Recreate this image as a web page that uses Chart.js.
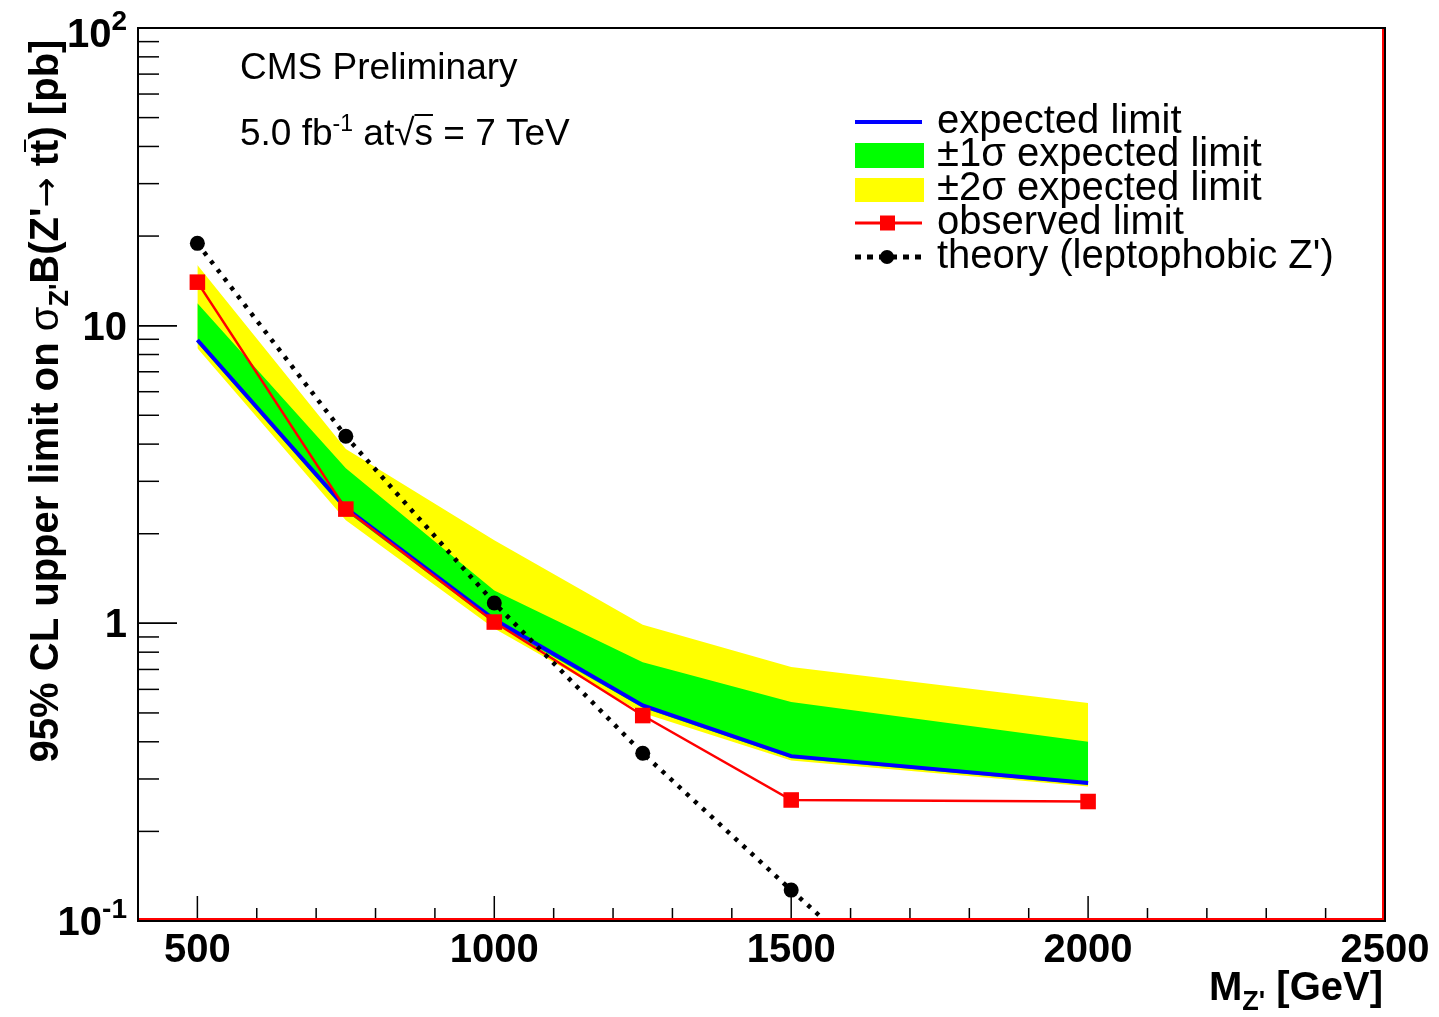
<!DOCTYPE html>
<html>
<head>
<meta charset="utf-8">
<title>Z' to ttbar limits</title>
<script src="https://cdn.jsdelivr.net/npm/chart.js@4.4.0/dist/chart.umd.min.js"></script>
<style>
  html, body { margin: 0; padding: 0; background: #fff; }
</style>
</head>
<body>
<canvas id="limitChart" width="1439" height="1017"></canvas>
<script>
// Z' mass points [GeV]
const masses = [500, 750, 1000, 1250, 1500, 2000];
// limits on sigma x B [pb]
const expectedLimit = [8.95, 2.44, 1.03, 0.53, 0.358, 0.291];
const plus1Sigma = [11.9, 3.32, 1.29, 0.74, 0.544, 0.40];
const minus1Sigma = [8.75, 2.38, 1.00, 0.52, 0.352, 0.287];
const plus2Sigma = [16.0, 3.85, 1.90, 0.99, 0.713, 0.54];
const minus2Sigma = [8.4, 2.22, 0.96, 0.50, 0.346, 0.283];
const observedLimit = [14.0, 2.42, 1.01, 0.49, 0.255, 0.252];
// leptophobic Z' theory curve
const theoryMasses = [500, 750, 1000, 1250, 1500, 1750];
const theoryXsec = [18.9, 4.25, 1.17, 0.366, 0.127, 0.045];
// axis ticks
const xMajorTicks = [500, 1000, 1500, 2000, 2500];
const yMajorTicks = [0.1, 1, 10, 100];
const yTickLabels = [['10', '-1'], ['1', ''], ['10', ''], ['10', '2']];

const legendLabels = ['expected limit', '\u00b11\u03c3 expected limit', '\u00b12\u03c3 expected limit',
  'observed limit', "theory (leptophobic Z')"];

const pts = (xs, ys) => xs.map((m, i) => ({ x: m, y: ys[i] }));
const FONT = '"Liberation Sans", Arial, Helvetica, sans-serif';

// draw a run of text pieces: [text, font, dy, overline]
function drawParts(ctx, parts, x, y, align, rotate) {
  ctx.save();
  ctx.translate(x, y);
  if (rotate) ctx.rotate(rotate);
  ctx.textAlign = 'left';
  ctx.textBaseline = 'alphabetic';
  ctx.fillStyle = '#000';
  let total = 0;
  parts.forEach(p => { ctx.font = p[1]; total += ctx.measureText(p[0]).width; });
  let cx = align === 'right' ? -total : align === 'center' ? -total / 2 : 0;
  parts.forEach(p => {
    ctx.font = p[1];
    const w = ctx.measureText(p[0]).width;
    ctx.fillText(p[0], cx, p[2] || 0);
    if (p[3]) {
      ctx.strokeStyle = '#000';
      ctx.lineWidth = 2;
      ctx.beginPath();
      ctx.moveTo(cx + p[3][0], p[3][1]);
      ctx.lineTo(cx + w, p[3][1]);
      ctx.stroke();
    }
    cx += w;
  });
  ctx.restore();
}

function seg(ctx, x1, y1, x2, y2) {
  ctx.beginPath();
  ctx.moveTo(x1, y1);
  ctx.lineTo(x2, y2);
  ctx.stroke();
}

const rootStyle = {
  id: 'rootStyle',
  beforeDraw(chart) {
    const ctx = chart.ctx;
    ctx.save();
    ctx.fillStyle = '#fff';
    ctx.fillRect(0, 0, chart.width, chart.height);
    ctx.restore();
  },
  afterDraw(chart) {
    const { ctx, chartArea: a, scales: { x, y } } = chart;
    ctx.save();

    // ticks, pointing into the frame
    ctx.strokeStyle = '#000';
    ctx.lineWidth = 1.5;
    for (let m = 400; m <= 2500; m += 100) {
      const px = x.getPixelForValue(m);
      seg(ctx, px, a.bottom, px, a.bottom - (m % 500 === 0 ? 25 : 13));
    }
    for (let d = 0.1; d < 100; d *= 10) {
      for (let k = 1; k <= 10; k++) {
        const py = y.getPixelForValue(d * k);
        seg(ctx, a.left, py, a.left + (k === 1 || k === 10 ? 39 : 21), py);
      }
    }

    // frame, ROOT style with red inner line at bottom and right
    ctx.lineWidth = 2;
    ctx.strokeRect(a.left, a.top, a.right - a.left, a.bottom - a.top);
    ctx.strokeStyle = '#ff0000';
    ctx.beginPath();
    ctx.moveTo(a.left + 1, a.bottom - 2);
    ctx.lineTo(a.right - 2, a.bottom - 2);
    ctx.lineTo(a.right - 2, a.top + 1);
    ctx.stroke();

    // tick labels
    ctx.fillStyle = '#000';
    ctx.textBaseline = 'alphabetic';
    ctx.font = 'bold 40px ' + FONT;
    ctx.textAlign = 'center';
    xMajorTicks.forEach(m => ctx.fillText(String(m), x.getPixelForValue(m), 962));
    yMajorTicks.forEach((v, i) => {
      const py = y.getPixelForValue(v);
      const base = Math.max(py + 14, a.top + 19);
      const [mant, exp] = yTickLabels[i];
      const parts = [[mant, 'bold 40px ' + FONT]];
      if (exp) parts.push([exp, 'bold 28px ' + FONT, -17]);
      drawParts(ctx, parts, 127, base, 'right');
    });

    // axis titles
    drawParts(ctx, [
      ['M', 'bold 40px ' + FONT],
      ["Z'", 'bold 27px ' + FONT, 10],
      [' [GeV]', 'bold 40px ' + FONT]
    ], 1383, 1000, 'right');

    drawParts(ctx, [
      ['95% CL upper limit on ', 'bold 40px ' + FONT],
      ['\u03c3', '40px ' + FONT],
      ["Z'", 'bold 27px ' + FONT, 10],
      ["B(Z'", 'bold 40px ' + FONT],
      ['\u2192', '36px "DejaVu Sans", sans-serif'],
      [' t', 'bold 40px ' + FONT],
      ['t', 'bold 40px ' + FONT, 0, [1, -33]],
      [') [pb]', 'bold 40px ' + FONT]
    ], 58, 401, 'center', -Math.PI / 2);

    // header text
    drawParts(ctx, [['CMS Preliminary', '37px ' + FONT]], 240, 79, 'left');
    drawParts(ctx, [
      ['5.0 fb', '37px ' + FONT],
      ['-1', '23px ' + FONT, -14],
      [' at', '37px ' + FONT],
      ['\u221a', '37px ' + FONT],
      ['s', '37px ' + FONT, 0, [0, -30]],
      [' = 7 TeV', '37px ' + FONT]
    ], 240, 145, 'left');

    // legend
    const rows = [122, 155, 189, 223, 257];
    ctx.lineCap = 'butt';
    ctx.strokeStyle = '#0000ff';
    ctx.lineWidth = 4;
    seg(ctx, 855, rows[0], 922, rows[0]);
    ctx.fillStyle = '#00ff00';
    ctx.fillRect(855, 143, 69, 25);
    ctx.fillStyle = '#ffff00';
    ctx.fillRect(855, 178, 69, 24);
    ctx.strokeStyle = '#ff0000';
    ctx.lineWidth = 3;
    seg(ctx, 855, rows[3], 922, rows[3]);
    ctx.fillStyle = '#ff0000';
    ctx.fillRect(880, rows[3] - 7.5, 15, 15);
    ctx.strokeStyle = '#000';
    ctx.lineWidth = 5;
    ctx.setLineDash([6, 6]);
    seg(ctx, 855, rows[4], 921, rows[4]);
    ctx.setLineDash([]);
    ctx.fillStyle = '#000';
    ctx.beginPath();
    ctx.arc(887, rows[4], 7, 0, Math.PI * 2);
    ctx.fill();
    ctx.font = '40px ' + FONT;
    ctx.textAlign = 'left';
    legendLabels.forEach((t, i) => ctx.fillText(t, 937, rows[i] + 11));

    ctx.restore();
  }
};

const ctx = document.getElementById('limitChart');
new Chart(ctx, {
  type: 'line',
  data: {
    datasets: [
      {
        label: legendLabels[4],
        data: pts(theoryMasses, theoryXsec),
        borderColor: '#000',
        borderWidth: 4.5,
        borderDash: [4, 7],
        pointRadius: 7.5,
        pointBackgroundColor: '#000',
        pointBorderWidth: 0,
        fill: false,
        order: 0
      },
      {
        label: legendLabels[3],
        data: pts(masses, observedLimit),
        borderColor: '#ff0000',
        borderWidth: 2.5,
        pointStyle: 'rect',
        pointRadius: 11,
        pointBackgroundColor: '#ff0000',
        pointBorderWidth: 0,
        fill: false,
        order: 1
      },
      {
        label: legendLabels[0],
        data: pts(masses, expectedLimit),
        borderColor: '#0000ff',
        borderWidth: 4,
        pointRadius: 0,
        fill: false,
        order: 2
      },
      {
        label: legendLabels[1],
        data: pts(masses, plus1Sigma),
        borderColor: 'transparent',
        borderWidth: 0,
        backgroundColor: '#00ff00',
        pointRadius: 0,
        fill: 4,
        order: 3
      },
      {
        label: '-1 sigma',
        data: pts(masses, minus1Sigma),
        borderColor: 'transparent',
        borderWidth: 0,
        pointRadius: 0,
        fill: false,
        order: 3
      },
      {
        label: legendLabels[2],
        data: pts(masses, plus2Sigma),
        borderColor: 'transparent',
        borderWidth: 0,
        backgroundColor: '#ffff00',
        pointRadius: 0,
        fill: 6,
        order: 4
      },
      {
        label: '-2 sigma',
        data: pts(masses, minus2Sigma),
        borderColor: 'transparent',
        borderWidth: 0,
        pointRadius: 0,
        fill: false,
        order: 4
      }
    ]
  },
  options: {
    responsive: false,
    devicePixelRatio: 1,
    animation: false,
    layout: { padding: { left: 138, right: 54, top: 28, bottom: 96 } },
    elements: { line: { tension: 0 } },
    scales: {
      x: { type: 'linear', min: 400, max: 2500, display: false },
      y: { type: 'logarithmic', min: 0.1, max: 100, display: false }
    },
    plugins: {
      legend: { display: false },
      tooltip: { enabled: false }
    }
  },
  plugins: [rootStyle]
});
</script>
</body>
</html>
